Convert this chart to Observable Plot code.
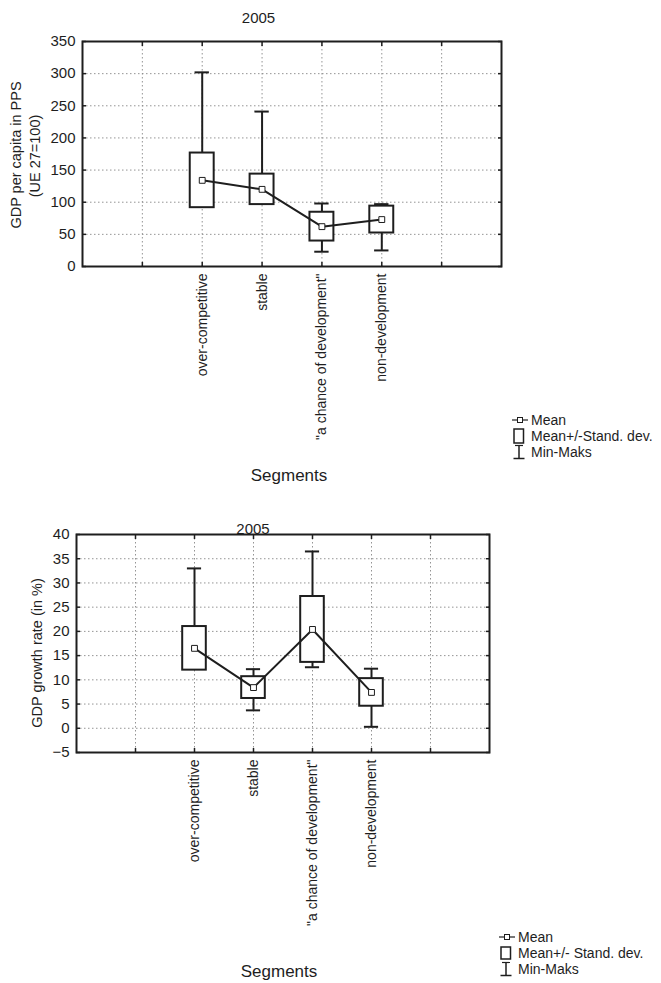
<!DOCTYPE html>
<html><head><meta charset="utf-8">
<script src="https://cdn.jsdelivr.net/npm/d3@7"></script>
<script src="https://cdn.jsdelivr.net/npm/@observablehq/plot@0.6"></script>
<style>
body{margin:0;background:#fff;}
#page{position:relative;width:661px;height:983px;font-family:"Liberation Sans",Arial,sans-serif;color:#1e1e1e;overflow:hidden;background:#fff}
.abs{position:absolute;white-space:nowrap;line-height:1}
.c{transform:translate(-50%,-50%)}
.r{transform:translate(-50%,-50%) rotate(-90deg)}
.l{transform:translate(0,-50%)}
svg.plot{position:absolute;left:0}
</style></head><body><div id="page"></div>
<script>
// ---- data ----
const categories = ["over-competitive", "stable", "\"a chance of development\"", "non-development"];
const slotTicks = [1, 2, 3, 4, 5, 6];
const catPos = [2, 3, 4, 5];

const gdpMean = [134, 120, 62, 73];
const gdpSD = [42.5, 23.7, 22.4, 20.9];
const gdpMin = [95, 100, 23, 25];
const gdpMax = [302, 241, 98, 97];
const gdpTicks = [0, 50, 100, 150, 200, 250, 300, 350];

const grMean = [16.5, 8.4, 20.4, 7.4];
const grSD = [4.5, 2.25, 6.8, 2.85];
const grMin = [12.5, 3.7, 12.6, 0.3];
const grMax = [33, 12.2, 36.5, 12.3];
const grTicks = [-5, 0, 5, 10, 15, 20, 25, 30, 35, 40];

const legendLabels1 = ["Mean", "Mean+/-Stand. dev.", "Min-Maks"];
const legendLabels2 = ["Mean", "Mean+/- Stand. dev.", "Min-Maks"];

const page = document.getElementById("page");
const ink = "#1e1e1e";

function rowsOf(mean, sd, min, max) {
  return categories.map((c, i) => ({cat: c, pos: catPos[i], mean: mean[i], sd: sd[i], min: min[i], max: max[i]}));
}

function chart({rows, yTicks, top, height, marginLeft, marginRight, marginTop, marginBottom}) {
  const yDomain = [yTicks[0], yTicks[yTicks.length - 1]];
  const inner = yTicks.filter(t => t > yDomain[0] && t < yDomain[1]);
  const grid = {stroke: "#888", strokeOpacity: 0.9, strokeDasharray: "1.5,2.5", strokeWidth: 1};
  const svg = Plot.plot({
    width: 661, height, marginLeft, marginRight, marginTop, marginBottom,
    style: {fontFamily: "Liberation Sans, Arial, sans-serif", fontSize: "14px", color: ink, background: "transparent", overflow: "visible"},
    x: {domain: [0, 7]},
    y: {domain: yDomain},
    marks: [
      Plot.gridX(slotTicks, grid),
      Plot.gridY(inner, grid),
      Plot.ruleX(rows, {x: "pos", y1: "min", y2: "max", stroke: ink, strokeWidth: 2}),
      Plot.ruleY(rows, {y: "max", x1: d => d.pos - 0.12, x2: d => d.pos + 0.12, stroke: ink, strokeWidth: 2}),
      Plot.ruleY(rows, {y: "min", x1: d => d.pos - 0.12, x2: d => d.pos + 0.12, stroke: ink, strokeWidth: 2}),
      Plot.rect(rows, {x1: d => d.pos - 0.2, x2: d => d.pos + 0.2, y1: d => d.mean - d.sd, y2: d => d.mean + d.sd, fill: "white", stroke: ink, strokeWidth: 2}),
      Plot.line(rows, {x: "pos", y: "mean", stroke: ink, strokeWidth: 2}),
      Plot.dot(rows, {x: "pos", y: "mean", symbol: "square", r: 3.3, fill: "white", stroke: ink, strokeWidth: 1}),
      Plot.axisY(yTicks, {anchor: "left", tickSize: 0, tickPadding: 7, fontSize: 15, label: null}),
      Plot.axisY(yTicks, {anchor: "left", tickSize: 4, dx: 4, tickFormat: () => "", label: null, strokeWidth: 1.5}),
      Plot.axisY(yTicks, {anchor: "right", tickSize: 4, dx: -4, tickFormat: () => "", label: null, strokeWidth: 1.5}),
      Plot.axisX(slotTicks, {anchor: "bottom", tickSize: 4, dy: -4, tickFormat: () => "", label: null, strokeWidth: 1.5}),
      Plot.axisX(slotTicks, {anchor: "top", tickSize: 4, dy: 4, tickFormat: () => "", label: null, strokeWidth: 1.5}),
      Plot.axisX(catPos, {anchor: "bottom", tickSize: 0, tickPadding: 7, tickRotate: -90, tickFormat: d => categories[catPos.indexOf(d)], fontSize: 14, label: null}),
      Plot.frame({stroke: ink, strokeWidth: 2})
    ]
  });
  svg.style.top = top + "px";
  page.appendChild(svg);
}

function text(str, x, y, cls, size) {
  const d = document.createElement("div");
  d.className = "abs " + cls;
  d.style.left = x + "px";
  d.style.top = y + "px";
  d.style.fontSize = size + "px";
  d.textContent = str;
  page.appendChild(d);
}

function legend(gx, tx, y1, y2, y3, boxH, labels) {
  const ns = "http://www.w3.org/2000/svg";
  const s = document.createElementNS(ns, "svg");
  s.setAttribute("width", 661); s.setAttribute("height", 983);
  s.style.position = "absolute"; s.style.left = 0; s.style.top = 0;
  const add = (tag, attrs) => { const e = document.createElementNS(ns, tag); for (const k in attrs) e.setAttribute(k, attrs[k]); s.appendChild(e); };
  add("line", {x1: gx, x2: gx + 16, y1: y1, y2: y1, stroke: ink, "stroke-width": 1.2});
  add("rect", {x: gx + 5.5, y: y1 - 2.5, width: 5, height: 5, fill: "white", stroke: ink, "stroke-width": 1});
  add("rect", {x: gx + 2, y: y2 - boxH / 2, width: 9.5, height: boxH, fill: "white", stroke: ink, "stroke-width": 1.5});
  add("line", {x1: gx + 7, x2: gx + 7, y1: y3 - 6.5, y2: y3 + 6.5, stroke: ink, "stroke-width": 1.5});
  add("line", {x1: gx + 1.5, x2: gx + 12.5, y1: y3 + 6.5, y2: y3 + 6.5, stroke: ink, "stroke-width": 1.5});
  add("line", {x1: gx + 3, x2: gx + 11, y1: y3 - 6.5, y2: y3 - 6.5, stroke: ink, "stroke-width": 1.2});
  page.appendChild(s);
  text(labels[0], tx, y1, "l", 14);
  text(labels[1], tx, y2, "l", 14);
  text(labels[2], tx, y3, "l", 14);
}

// ---- chart 1 ----
chart({rows: rowsOf(gdpMean, gdpSD, gdpMin, gdpMax), yTicks: gdpTicks, top: 0, height: 490,
  marginLeft: 82, marginRight: 160, marginTop: 41, marginBottom: 224});
text("2005", 258.5, 17, "c", 15);
text("GDP per capita in PPS", 16, 155, "r", 14.5);
text("(UE 27=100)", 34.5, 156, "r", 14.5);
text("Segments", 289, 475, "c", 17);
legend(512, 531, 420, 436, 452, 14, legendLabels1);

// ---- chart 2 ----
chart({rows: rowsOf(grMean, grSD, grMin, grMax), yTicks: grTicks, top: 500, height: 483,
  marginLeft: 76, marginRight: 172, marginTop: 44, marginBottom: 221});
text("2005", 253, 528, "c", 15);
text("GDP growth rate (in %)", 36.5, 653, "r", 14.5);
text("Segments", 279, 971, "c", 17);
legend(499, 518, 937, 953, 969, 12, legendLabels2);
</script></body></html>
